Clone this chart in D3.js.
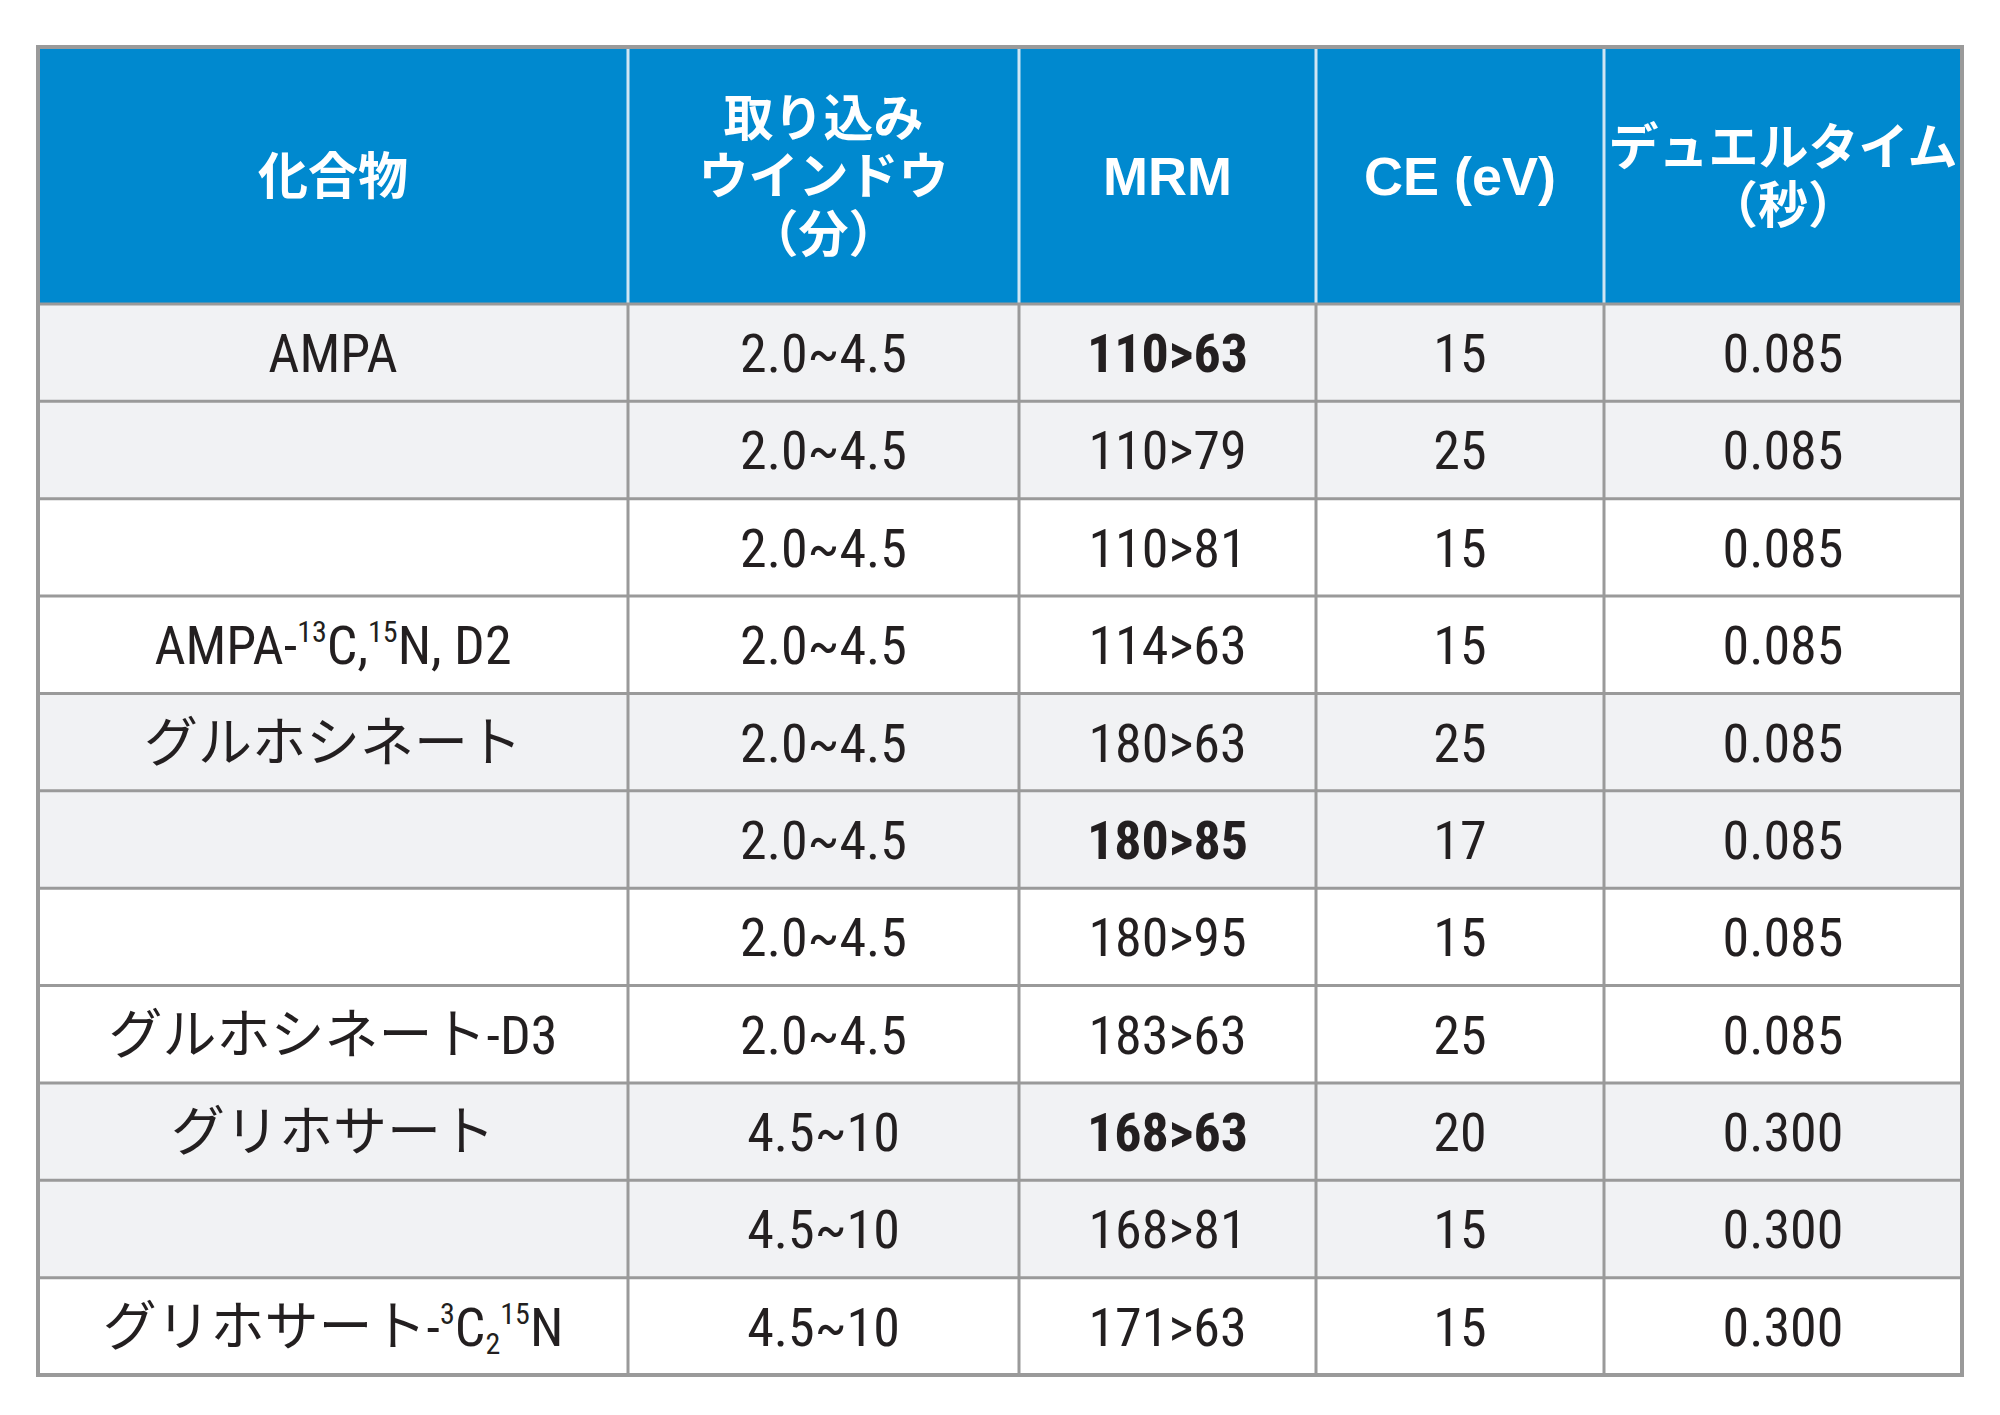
<!DOCTYPE html><html><head><meta charset="utf-8"><script src="https://d3js.org/d3.v7.min.js"></script>
<style>body{margin:0;background:#fff}</style></head><body><svg id="c" width="2000" height="1415"></svg><script>
const headers=[["化合物"],["取り込み","ウインドウ","（分）"],["MRM"],["CE (eV)"],["デュエルタイム","（秒）"]];
const compounds=[[["AMPA"]],[],[],[["AMPA-"],["13","sup"],["C,"],["15","sup"],["N, D2"]],[["グルホシネート"]],[],[],[["グルホシネート-D3"]],[["グリホサート"]],[],[["グリホサート-"],["3","sup"],["C"],["2","sub"],["15","sup"],["N"]]];
const windows=["2.0~4.5","2.0~4.5","2.0~4.5","2.0~4.5","2.0~4.5","2.0~4.5","2.0~4.5","2.0~4.5","4.5~10","4.5~10","4.5~10"];
const mrm=["110>63","110>79","110>81","114>63","180>63","180>85","180>95","183>63","168>63","168>81","171>63"];
const mrmBold=[true,false,false,false,false,true,false,false,true,false,false];
const ce=["15","25","15","15","25","17","15","25","20","15","15"];
const dwell=["0.085","0.085","0.085","0.085","0.085","0.085","0.085","0.085","0.300","0.300","0.300"];
const shaded=[1,1,0,0,1,1,0,0,1,1,0];
(function(){
const svg=d3.select("#c");
const colEdges=[38,628,1019,1316,1604,1962];
const xs=i=>colEdges[i];
const tY=47,hb=304,rowH=(1375-304)/11;
const y=d3.scaleLinear().domain([0,11]).range([hb,1375]);
const font="'Liberation Sans Narrow','Roboto Condensed','Noto Sans CJK JP',sans-serif";
const jfont="'Noto Sans CJK JP',sans-serif";
svg.append("rect").attr("x",38).attr("y",tY).attr("width",1924).attr("height",hb-tY).attr("fill","#0089cf");
for(let r=0;r<11;r++)svg.append("rect").attr("x",38).attr("y",y(r)).attr("width",1924).attr("height",rowH).attr("fill",shaded[r]?"#f1f2f4":"#fff");
for(let i=1;i<5;i++)svg.append("line").attr("x1",xs(i)).attr("x2",xs(i)).attr("y1",tY).attr("y2",hb).attr("stroke","#cfe6f4").attr("stroke-width",3);
for(let i=1;i<5;i++)svg.append("line").attr("x1",xs(i)).attr("x2",xs(i)).attr("y1",hb).attr("y2",1375).attr("stroke","#9a9a9a").attr("stroke-width",3);
for(let r=0;r<=11;r++)svg.append("line").attr("x1",38).attr("x2",1962).attr("y1",y(r)).attr("y2",y(r)).attr("stroke","#9a9a9a").attr("stroke-width",3);
svg.append("rect").attr("x",38).attr("y",tY).attr("width",1924).attr("height",1375-tY).attr("fill","none").attr("stroke","#9a9a9a").attr("stroke-width",4);
headers.forEach((h,i)=>{const cx=(xs(i)+xs(i+1))/2,cy=(tY+hb)/2,lh=58;
 h.forEach((t,k)=>svg.append("text").attr("x",cx).attr("y",cy+(k-(h.length-1)/2)*lh).attr("dy","0.36em").attr("text-anchor","middle")
 .attr("fill","#fff").attr("font-weight","bold").attr("font-size",i==2||i==3?54:50).attr("font-family",i==2||i==3?"'Liberation Sans',sans-serif":jfont).text(t));});
function cell(c,r,txt,bold){return svg.append("text").attr("x",(xs(c)+xs(c+1))/2).attr("y",y(r)+rowH/2).attr("dy","0.36em").attr("text-anchor","middle")
 .attr("fill","#231f20").attr("font-size",54).attr("font-family",font).attr("font-weight",bold?"bold":"normal").text(txt);}
compounds.forEach((parts,r)=>{if(!parts.length)return;const t=cell(0,r,"");
 parts.forEach(p=>{const ts=t.append("tspan").text(p[0]);if(p[1]=="sup")ts.attr("font-size",30).attr("dy",-22);else if(p[1]=="sub")ts.attr("font-size",30).attr("dy",8);});
 let off=0;t.selectAll("tspan").each(function(){const d=+(this.getAttribute("dy")||0);if(d){this.setAttribute("dy",d-off);off=d;}else if(off){this.setAttribute("dy",-off);off=0;}});
});
windows.forEach((v,r)=>cell(1,r,v));
mrm.forEach((v,r)=>cell(2,r,v,mrmBold[r]));
ce.forEach((v,r)=>cell(3,r,v));
dwell.forEach((v,r)=>cell(4,r,v));
})();
</script></body></html>
